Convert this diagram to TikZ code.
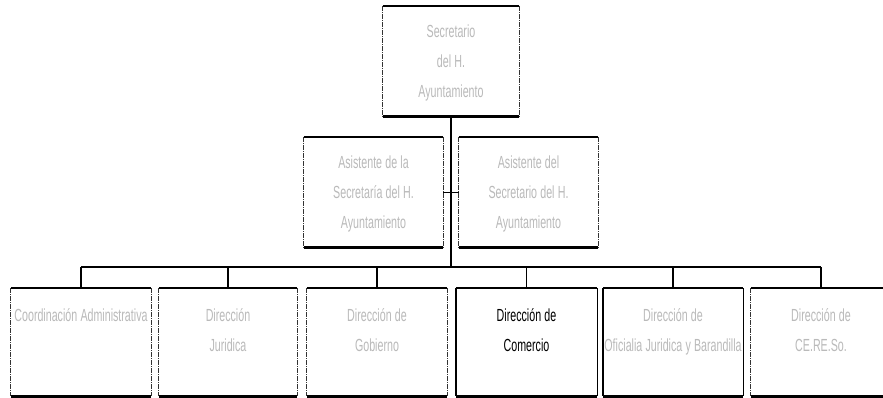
\documentclass[tikz,border=0pt]{standalone}
\usepackage{fontspec}
\setmainfont{Liberation Sans}[FakeStretch=0.61]
\usepackage{tikz}
\definecolor{paleText}{RGB}{186,186,186}
\newcommand{\orgFont}{\fontsize{17.5}{30}\selectfont\spaceskip=3.2pt\relax}

\begin{document}
\begin{tikzpicture}[x=1pt, y={(0pt,-1pt)}, font=\orgFont]
            \tikzstyle{boxStyle} = [inner ysep=0pt, inner xsep=-5pt, text width=150pt,
                align=flush center, anchor=north, text=paleText]
            \tikzstyle{upperBox} = [boxStyle, text height=31pt, text depth=79pt]
            \tikzstyle{lowerBox} = [boxStyle, text height=33pt, text depth=75pt]
            \tikzstyle{boxEdge} = [draw=black, line width=2.4pt]
            \tikzstyle{sideEdge} = [draw=black!80, line width=0.9pt,
                dash pattern=on 5pt off 1pt on 1pt off 1pt]
            \tikzstyle{solidSide} = [draw=black, line width=1.4pt]
            \tikzstyle{linkEdge} = [draw=black, line width=1.3pt]
            \clip (0,0) rectangle (883,398);
            \fill[white] (0,0) rectangle (883,398);
            % top and assistants
            \node[upperBox, inner xsep=-7pt] (sec) at (451,6) {Secretario\\del H.\\Ayuntamiento};
            \node[upperBox, inner xsep=-5.5pt] (asi1) at (373.5,137) {Asistente de la\\Secretaría del H.\\Ayuntamiento};
            \node[upperBox, inner xsep=-5.5pt] (asi2) at (528.5,137) {Asistente del\\Secretario del H.\\Ayuntamiento};
            % direcciones
            \node[lowerBox] (coord) at (81,288)  {Coordinación Administrativa};
            \node[lowerBox, inner xsep=-6pt] (jur) at (228,288) {Dirección\\Juridica};
            \node[lowerBox] (gob) at (377,288)   {Dirección de\\Gobierno};
            \node[lowerBox, text=black, inner xsep=-4.5pt] (com) at (526.5,288) {Dirección de\\Comercio};
            \node[lowerBox] (ofi) at (673,288)   {Dirección de\\Oficialia Juridica y Barandilla};
            \node[lowerBox] (cer) at (821,288)   {Dirección de\\CE.RE.So.};
            \coordinate (bus) at (451,267);
            % lines
            \path[linkEdge] (sec.south) -- (bus);
            \path[linkEdge] (coord.north |- bus) -- (cer.north |- bus);
            \path[linkEdge] (asi1.east) -- (asi2.west);
            \foreach \n in {coord,jur,gob,com,ofi,cer}
                \path[linkEdge] (\n.north |- bus) -- (\n.north);
            \foreach \n in {sec,asi1,asi2,coord,jur,gob,com,ofi,cer} {
                \path[boxEdge] (\n.north west) -- (\n.north east);
                \path[boxEdge] (\n.south west) -- (\n.south east);
            }
            \foreach \n in {sec,asi1,asi2,coord,jur,gob,cer}
                \path[sideEdge] (\n.north west) -- (\n.south west)
                    (\n.north east) -- (\n.south east);
            \foreach \n in {com,ofi}
                \path[solidSide] (\n.north west) -- (\n.south west)
                    (\n.north east) -- (\n.south east);
        \end{tikzpicture}
\end{document}
